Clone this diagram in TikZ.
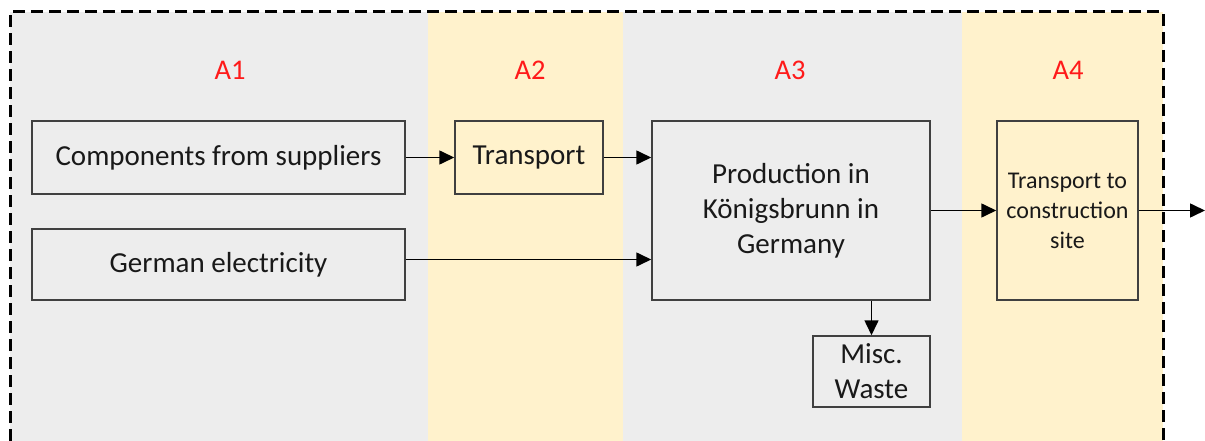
\documentclass[tikz,border=0pt]{standalone}
\usepackage{fontspec}
\setmainfont{Carlito}
\usetikzlibrary{arrows.meta}
\definecolor{bandgray}{HTML}{EDEDED}
\definecolor{bandyellow}{HTML}{FFF2CC}
\definecolor{boxline}{HTML}{404040}
\definecolor{labelred}{HTML}{FF1A1A}
\begin{document}
\begin{tikzpicture}[x=1pt,y=-1pt,
  box/.style={draw=boxline, line width=1.5pt, inner sep=0pt, align=center,
    text=black!90, font=\fontsize{29}{35}\selectfont},
  stage/.style={text=labelred, font=\fontsize{28.5}{34}\selectfont},
  flow/.style={line width=1.6pt, -{Triangle[length=15pt,width=14pt]}}]
\useasboundingbox (0,0) rectangle (1205,441);

% stage bands
\fill[bandgray] (10,12) rectangle (428,441);
\fill[bandyellow] (428,12) rectangle (623,441);
\fill[bandgray] (623,12) rectangle (962,441);
\fill[bandyellow] (962,12) rectangle (1163,441);
\draw[line width=3pt, dash pattern=on 12pt off 6pt] (10,441) -- (10,12) -- (1163,12) -- (1163,441);

\node[stage] (a1) at (230,70) {A1};
\node[stage] (a2) at (530,70) {A2};
\node[stage] (a3) at (790,70) {A3};
\node[stage] (a4) at (1068,70) {A4};

% boxes
\node[box, minimum width=373pt, minimum height=73pt] (comp) at (218.5,157.5) {Components from suppliers};
\node[box, minimum width=373pt, minimum height=71pt] (elec) at (218.5,264.5) {German electricity};
\node[box, minimum width=148pt, minimum height=73pt] (trans) at (529,157.5) {Transport};
\node[box, minimum width=278pt, minimum height=179pt] (prod) at (791,210.5) {Production in\\ Königsbrunn in\\ Germany};
\node[box, minimum width=117pt, minimum height=71pt] (waste) at (871.5,371.5) {Misc.\\ Waste};
\node[box, minimum width=141pt, minimum height=179pt,
  font=\fontsize{24}{30}\selectfont] (site) at (1067.5,210.5) {Transport to\\ construction\\ site};
\coordinate (out) at (1205,210.5);

% flows
\draw[flow] (comp) -- (trans);
\draw[flow] (trans.east) -- (trans.east -| prod.west);
\draw[flow] ([yshift=5pt]elec.east) -- ([yshift=5pt]elec.east -| prod.west);
\draw[flow] (prod) -- (site);
\draw[flow] (site) -- (out);
\draw[flow] (waste.north |- prod.south) -- (waste.north);

\end{tikzpicture}
\end{document}
